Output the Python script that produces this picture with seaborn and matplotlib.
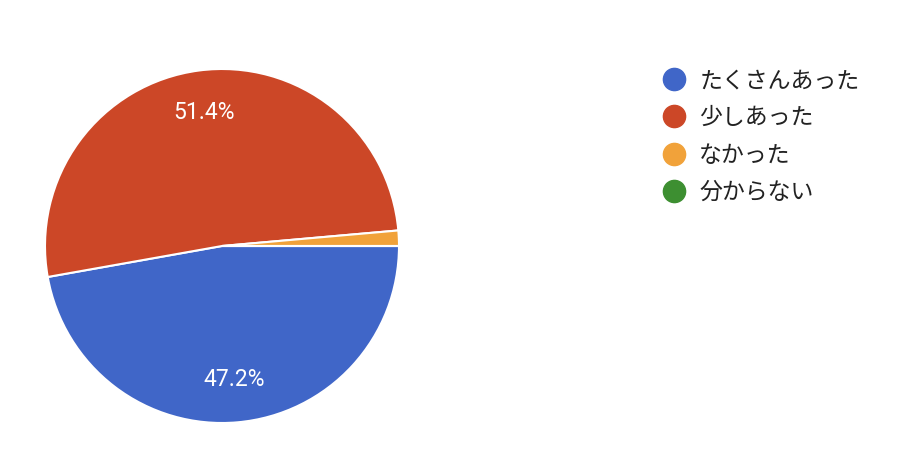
import numpy as np
import pandas as pd
import seaborn as sns
import matplotlib.pyplot as plt
from matplotlib.lines import Line2D

# survey answers and share of responses (%)
answers = ['たくさんあった', '少しあった', 'なかった', '分からない']
shares = [47.2, 51.4, 1.4, 0.0]
colors = ['#4066c8', '#cc4727', '#f1a23a', '#3d8f31']

sns.set_theme(style='white')
plt.rcParams['font.family'] = ['Noto Sans CJK JP', 'DejaVu Sans']

fig = plt.figure(figsize=(9.04, 4.74), dpi=100)
ax = fig.add_axes([45 / 904, 51 / 474, 354 / 904, 354 / 474])

pal = sns.color_palette(colors)


def pct_label(p):
    return f'{p:.1f}%' if p >= 5 else ''


wedges, texts, autotexts = ax.pie(
    shares, colors=pal, startangle=0, counterclock=False,
    autopct=pct_label, pctdistance=0.76,
    wedgeprops={'edgecolor': 'white', 'linewidth': 1.5},
    textprops={'color': 'white', 'fontsize': 16.5, 'family': ['Roboto', 'DejaVu Sans']})
ax.set_xlim(-1.0, 1.0)
ax.set_ylim(-1.0, 1.0)
ax.set_aspect('equal')
ax.axis('off')

handles = [Line2D([], [], marker='o', linestyle='', markersize=16,
                  markerfacecolor=c, markeredgecolor=c) for c in colors]
fig.legend(handles, answers, loc='upper left', bbox_to_anchor=(642 / 904, 1 - 60 / 474),
           frameon=False, fontsize=16.5, handletextpad=0.1, labelspacing=0.62,
           labelcolor='#222222', borderaxespad=0)

fig.savefig('out.png', dpi=100)
